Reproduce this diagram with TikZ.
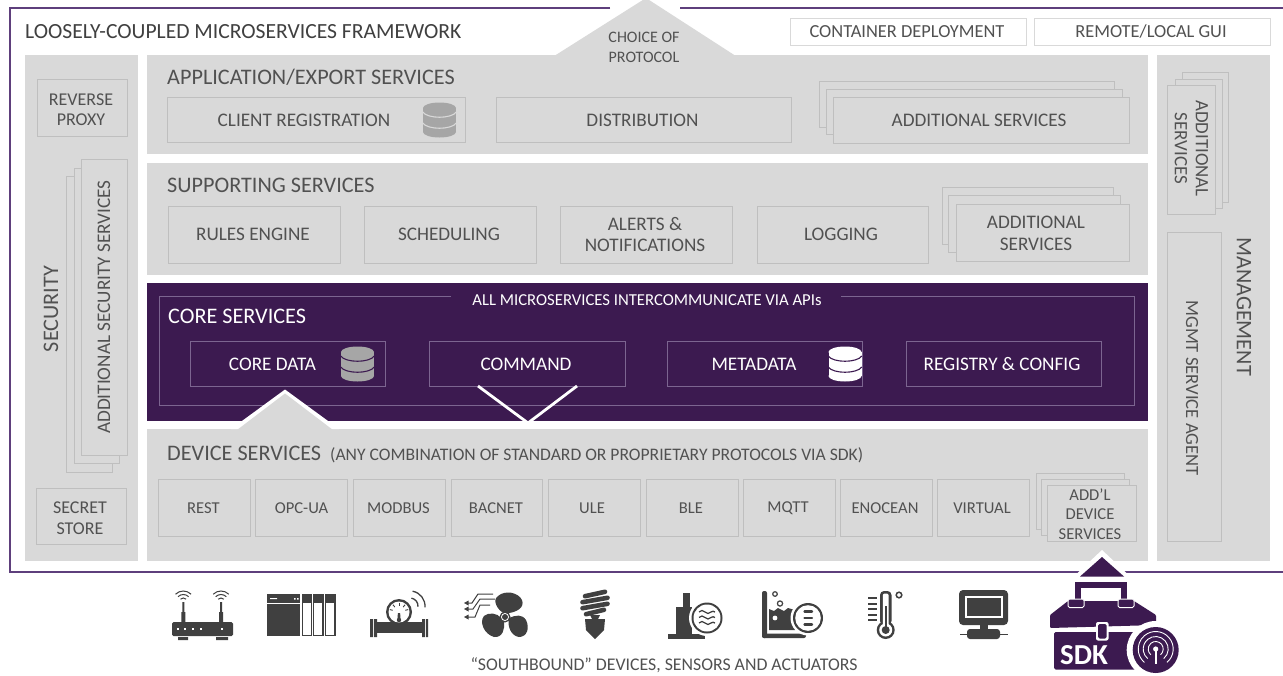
\documentclass[tikz,border=0pt]{standalone}
\usepackage{fontspec}
\setmainfont{Carlito}
\usetikzlibrary{calc}
\definecolor{panel}{HTML}{D9D9D9}
\definecolor{boxline}{HTML}{BFBFBF}
\definecolor{ink}{HTML}{515151}
\definecolor{deep}{HTML}{3C1A50}
\definecolor{frameline}{HTML}{5E3F7C}
\definecolor{coreline}{HTML}{7C6590}
\definecolor{icon}{HTML}{404040}
\definecolor{dbgray}{HTML}{A6A6A6}
\tikzset{
 x=1pt,y=-1pt,
 panelbox/.style={fill=panel,draw=none},
 sbox/.style={draw=boxline,line width=.9pt,fill=panel},
 lbl/.style={text=ink,font=\fontsize{19.2}{21.5}\selectfont,align=center,inner sep=0pt},
 dlbl/.style={lbl,font=\fontsize{16.6}{19.8}\selectfont},
 head/.style={text=ink,font=\fontsize{22.2}{26}\selectfont,inner sep=0pt,anchor=west},
 cbox/.style={draw=coreline,line width=.9pt,fill=deep},
 clbl/.style={text=white,font=\fontsize{19.2}{21}\selectfont,inner sep=0pt},
 topbox/.style={draw=panel,line width=.9pt,fill=white},
 ic/.style={fill=icon,draw=none},
}
\newcommand{\Bx}[6][sbox]{\node[#1,minimum width=0pt,inner sep=0pt,fit to rect={#3}{#4}{#5}{#6}] (#2) {};}
\tikzset{fit to rect/.code n args={4}{%
 \pgfmathsetmacro\rw{#3-#1}\pgfmathsetmacro\rh{#4-#2}%
 \pgfmathsetmacro\rcx{(#1+#3)/2}\pgfmathsetmacro\rcy{(#2+#4)/2}%
 \tikzset{rectangle,minimum width=\rw pt,minimum height=\rh pt,at={(\rcx,\rcy)},outer sep=0pt}}}
\newcommand{\Db}[4]{% cx cy fill bandcolor
 \fill[#3] (#1-16.5,#2-12) rectangle (#1+16.5,#2+12);
 \fill[#3] (#1,#2-12) ellipse[x radius=16.5,y radius=5.5];
 \fill[#3] (#1,#2+12) ellipse[x radius=16.5,y radius=5.5];
 \draw[#4,line width=1.1pt] (#1-16.8,#2-8) .. controls (#1-12,#2-1) and (#1+12,#2-1) .. (#1+16.8,#2-8);
 \draw[#4,line width=1.1pt] (#1-16.8,#2+3) .. controls (#1-12,#2+10) and (#1+12,#2+10) .. (#1+16.8,#2+3);
}
\begin{document}
\begin{tikzpicture}
\useasboundingbox (0,0) rectangle (1283,675);
\fill[white] (0,0) rectangle (1283,675);
% frame
\coordinate (fa) at (610,8);\coordinate (fb) at (10,8);\coordinate (fc) at (10,572);\coordinate (fd) at (1283,572);\coordinate (fe) at (1283,8);\coordinate (ff) at (680,8);
\draw[frameline,line width=1.6pt] (fa)--(fb)--(fc)--(fd);
\draw[frameline,line width=1.6pt] (fe)--(ff);
\node[text=icon,font=\fontsize{21.6}{24}\selectfont,inner sep=0pt,anchor=west] (title) at (25,32) {LOOSELY-COUPLED MICROSERVICES FRAMEWORK};
\Bx[topbox]{cont}{790}{18}{1026}{45}\node[lbl,font=\fontsize{18.4}{21}\selectfont] at (907,32) {CONTAINER DEPLOYMENT};
\Bx[topbox]{gui}{1034}{18}{1270}{45}\node[lbl,font=\fontsize{18.4}{21}\selectfont] at (1151,32) {REMOTE/LOCAL GUI};
% panels
\Bx[panelbox]{sec}{25}{55}{138}{561}
\Bx[panelbox]{app}{147}{55}{1148}{154}
\Bx[panelbox]{sup}{147}{163}{1148}{275}
\Bx[panelbox]{dev}{147}{429}{1148}{561}
\Bx[panelbox]{mgmt}{1157}{55}{1270}{561}
\Bx[panelbox,fill=deep]{core}{147}{283}{1148}{421}
% choice of protocol
\fill[panel] (555,55.5) -- (646,-2) -- (735,55.5) -- cycle;
\node[lbl,font=\fontsize{16}{20.5}\selectfont] (choice) at (644,47.5) {CHOICE OF\\PROTOCOL};
% app
\node[head] at (167,77.5) {APPLICATION/EXPORT SERVICES};
\Bx{client}{167}{97}{465}{142}\node[lbl] at (304,120.5) {CLIENT REGISTRATION};
\Db{439.5}{120}{dbgray}{panel}
\Bx{dist}{496}{97}{791}{142}\node[lbl] at (642.5,120.5) {DISTRIBUTION};
\Bx{adda}{819}{81}{1114}{127}\Bx{addb}{826}{89}{1122}{134}\Bx{addc}{833}{97}{1129}{143}\node[lbl] at (979,120.5) {ADDITIONAL SERVICES};
% support
\node[head] at (167,185.5) {SUPPORTING SERVICES};
\Bx{rules}{168}{206}{340}{263}\node[lbl] at (253,234.5) {RULES ENGINE};
\Bx{sched}{364}{206}{536}{263}\node[lbl] at (449,234.5) {SCHEDULING};
\Bx{alert}{560}{206}{732}{263}\node[lbl] at (645,234.5) {ALERTS \&\\NOTIFICATIONS};
\Bx{logg}{757}{206}{928}{263}\node[lbl] at (841,234.5) {LOGGING};
\Bx{sa}{942}{187}{1113}{244}\Bx{sb}{948}{195}{1120}{252}\Bx{sc}{956}{204}{1129}{261}\node[lbl] at (1036,233.5) {ADDITIONAL\\SERVICES};
% security
\node[head,anchor=center,rotate=90] at (51,309) {SECURITY};
\Bx{rev}{37}{79}{127}{136}\node[lbl,font=\fontsize{18}{20.5}\selectfont] at (81,109.5) {REVERSE\\PROXY};
\Bx{xa}{66}{176}{112}{472}\Bx{xb}{74}{168}{119}{463}\Bx{xc}{81}{159}{127}{455}
\node[lbl,rotate=90] at (104,307) {ADDITIONAL SECURITY SERVICES};
\Bx{secret}{36}{488}{126}{544}\node[lbl,font=\fontsize{18}{20.5}\selectfont] at (80,518) {SECRET\\STORE};
% management
\node[head,anchor=center,rotate=-90] at (1244,306.5) {MANAGEMENT};
\Bx{ma}{1182}{72}{1228}{202}\Bx{mb}{1175}{79}{1222}{208}\Bx{mc}{1167}{85}{1215}{214}
\node[lbl,rotate=-90,font=\fontsize{18.9}{21}\selectfont] at (1191.5,148.5) {ADDITIONAL\\SERVICES};
\Bx{agent}{1167}{232}{1221}{541}\node[lbl,rotate=-90,font=\fontsize{18.6}{21}\selectfont] at (1192,388) {MGMT SERVICE AGENT};
% core
\coordinate (ca) at (451,296);\coordinate (cb) at (159,296);\coordinate (cc) at (159,405);\coordinate (cd) at (1134,405);\coordinate (ce) at (1134,296);\coordinate (cf) at (841,296);
\draw[coreline,line width=.8pt] (ca)--(cb)--(cc)--(cd)--(ce)--(cf);
\node[clbl,font=\fontsize{16.7}{19}\selectfont] (apis) at (647,300) {ALL MICROSERVICES INTERCOMMUNICATE VIA APIs};
\node[clbl,font=\fontsize{22.2}{24}\selectfont,anchor=west] at (168,316.5) {CORE SERVICES};
\Bx[cbox]{cdata}{190}{341}{385}{386}\node[clbl] at (272.5,364) {CORE DATA};
\Db{357.5}{364}{dbgray}{deep}
\Bx[cbox]{cmd}{429}{341}{625}{386}\node[clbl] at (526,364) {COMMAND};
\Bx[cbox]{meta}{667}{341}{862}{386}\node[clbl] at (754,364) {METADATA};
\Db{845}{364}{white}{deep}
\Bx[cbox]{reg}{906}{341}{1101}{386}\node[clbl] at (1002,364) {REGISTRY \& CONFIG};
% arrows between core and device
\fill[white] (147,421) rectangle (1148,429);
\fill[white] (231,429) -- (285,389.5) -- (339,429) -- cycle;
\fill[panel] (237,430) -- (285,393.5) -- (333,430) -- cycle;
\draw[white,line width=2.8pt] (478,386) -- (528,423) -- (577,386);
% device
\node[head] at (167,453.5) {DEVICE SERVICES};
\node[text=ink,font=\fontsize{17.6}{20}\selectfont,inner sep=0pt,anchor=west] at (330,455) {(ANY COMBINATION OF STANDARD OR PROPRIETARY PROTOCOLS VIA SDK)};
\Bx{d1}{158}{479}{250}{536}\node[dlbl] at (203.5,508) {REST};
\Bx{d2}{255}{479}{347}{536}\node[dlbl] at (301.5,508) {OPC-UA};
\Bx{d3}{353}{479}{445}{536}\node[dlbl] at (398.5,508) {MODBUS};
\Bx{d4}{451}{479}{542}{536}\node[dlbl] at (496,508) {BACNET};
\Bx{d5}{548}{479}{640}{536}\node[dlbl] at (592,508) {ULE};
\Bx{d6}{646}{479}{738}{536}\node[dlbl] at (691,508) {BLE};
\Bx{d7}{743}{479}{835}{536}\node[dlbl] at (788,508) {MQTT};
\Bx{d8}{840}{479}{932}{536}\node[dlbl] at (885,508) {ENOCEAN};
\Bx{d9}{937}{479}{1029}{536}\node[dlbl] at (982,508) {VIRTUAL};
\Bx{ea}{1036}{473}{1124}{529}\Bx{eb}{1041}{479}{1129}{535}\Bx{ec}{1047}{485}{1136}{541}
\node[dlbl] at (1090,514) {ADD’L\\DEVICE\\SERVICES};
% caption
\node[text=ink,font=\fontsize{17.8}{20}\selectfont,inner sep=0pt] (south) at (664,665) {“SOUTHBOUND” DEVICES, SENSORS AND ACTUATORS};
% ICONS
% router
\fill[ic,rounded corners=1.5pt] (172,622) rectangle (233,636);
\fill[ic] (178,637) rectangle (188,640) (216,637) rectangle (228,640);
\fill[ic] (182.3,602) rectangle (184.3,612) (181.3,612) rectangle (185.3,622) (220,602) rectangle (222,612) (219,612) rectangle (223,622);
\foreach \x in {178,185,193,201,222}{\fill[white] (\x-1,628) rectangle (\x+1,630);}
\foreach \cx in {183.3,221}{\foreach \r in {4,7.5,11}{\draw[icon,line width=1pt] (\cx,602) ++(-135:\r) arc[start angle=-135,end angle=-45,radius=\r];}}
% plc
\fill[ic] (267,594) rectangle (300,636);
\fill[white] (267,602.6) rectangle (300,603.4);
\fill[white] (270,598) rectangle (277,599) (294,598) rectangle (295.5,599.5) (297,598) rectangle (298.5,599.5);
\foreach \x in {301.5,313,325}{\fill[ic] (\x,594) rectangle (\x+10.5,636);\fill[white] (\x+1.2,603) rectangle (\x+9.3,634.8);}
% meter
\fill[ic] (370,619) rectangle (373,637) (374,619) rectangle (377,637) (422,619) rectangle (425,637) (426,619) rectangle (428,637);
\fill[ic] (377,622) rectangle (422,633);
\fill[ic] (399,612) circle[radius=13];
\fill[white] (399,612) circle[radius=10.5];
\fill[ic] (397.8,613) -- (400.2,613) -- (400.4,620) -- (397.6,620) -- cycle;
\fill[ic] (399,620) circle[radius=2.2];
\foreach \a in {-165,-130,-90,-50,-15}{\draw[icon,line width=.9pt] (399,612) ++(\a:9.5) -- ++(\a:-3);}
\draw[icon,line width=1.3pt] (410,606) ++(-80:8) arc[start angle=-80,end angle=5,radius=8];
\draw[icon,line width=1.3pt] (410,606) ++(-80:15) arc[start angle=-80,end angle=5,radius=15];
% fan
\fill[ic] (505,614) .. controls (497,610) and (492,600) .. (498,596) .. controls (505,590) and (518,592) .. (522,600) .. controls (525,608) and (516,612) .. (509,613) -- cycle;
\fill[ic] (509,618) .. controls (516,615) and (522,614) .. (526,620) .. controls (530,628) and (527,637) .. (519,637) .. controls (511,636) and (507,626) .. (509,618) -- cycle;
\fill[ic] (501,618) .. controls (498,613) and (488,612) .. (484,616) .. controls (479,622) and (484,634) .. (494,637) .. controls (503,638) and (505,628) .. (504,622) -- cycle;
\fill[ic] (505,617) circle[radius=5.5];\fill[white] (505,617) circle[radius=4];\fill[ic] (505,617) circle[radius=3];
\draw[icon,line width=1pt] (493,594) -- (478,594) -- (472,603) -- (466,603);
\draw[icon,line width=1pt] (495,599) -- (480,599) -- (473,609) -- (466,609);
\draw[icon,line width=1pt] (490,605) -- (480,605) -- (475,617) -- (466,617);
\foreach \y in {603,609,617}{\fill[ic] (464,\y) -- (468.5,\y-2.5) -- (468.5,\y+2.5) -- cycle;}
% bulb
\foreach \y/\w in {594/10,600/12.5,606/12.5,612/9}{\draw[icon,line width=4.6pt,line cap=round] (595-\w,\y+2.2) -- (595+\w,\y-2.2);}
\fill[ic] (590,615) -- (600,615) -- (598,619) -- (592,619) -- cycle;
\fill[ic] (585,619) -- (605,619) -- (604,630) -- (601,633) -- (595,639) -- (589,633) -- (586,630) -- cycle;
% level
\fill[ic] (668,633.5) rectangle (705,638.5);
\fill[ic] (676,607) rectangle (692,634);\fill[ic] (683,592.5) rectangle (690,607);
\fill[white] (707,618) circle[radius=18];\fill[ic] (707,618) circle[radius=15.5];\fill[white] (707,618) circle[radius=13.5];
\foreach \y in {612,617.5,623}{\draw[icon,line width=1.3pt] (699,\y) .. controls (701,\y-2) and (703,\y-2) .. (705,\y) .. controls (707,\y+2) and (709,\y+2) .. (711,\y) .. controls (712,\y-1) and (714,\y-1) .. (715,\y);}
% tank
\fill[ic,rounded corners=2pt] (762,591) rectangle (767,638);
\fill[ic,rounded corners=2pt] (762,633.5) rectangle (806,638);
\fill[ic] (769,609) -- (774,611) -- (778,608) -- (784,611) -- (788,608) -- (795,610) -- (795,630) -- (769,630) -- cycle;
\fill[white] (775,618) circle[radius=2.4];
\draw[icon,line width=1.2pt] (775,594) circle[radius=2.3];
\draw[icon,line width=1.2pt] (780,603.5) circle[radius=2.6];
\fill[white] (808,618) circle[radius=17.5];\fill[ic] (808,618) circle[radius=15];\fill[white] (808,618) circle[radius=12.8];
\foreach \y in {611.5,618,624.5}{\draw[icon,line width=2.4pt,line cap=round] (804.5,\y) -- (812,\y);}
% thermometer
\fill[ic,rounded corners=4pt] (880,591) rectangle (891.5,625);
\fill[ic] (885.7,630) circle[radius=9];
\fill[white,rounded corners=2pt] (882.8,593.5) rectangle (888.6,626);
\fill[white] (885.7,630) circle[radius=6.5];
\fill[ic] (885.7,630) circle[radius=4];\fill[ic] (884.7,606) rectangle (886.7,628);
\foreach \y in {598,604,609,615,620}{\fill[ic] (868,\y-1) rectangle (877,\y+1);}
\draw[icon,line width=1.5pt] (899,595) circle[radius=2.8];
% monitor
\fill[ic,rounded corners=4pt] (959,590) rectangle (1008,625);
\fill[white] (965,596) rectangle (1003,618);\fill[ic] (967,598) rectangle (1001,616);
\fill[ic] (980,625) rectangle (988,632);
\fill[ic] (960,633.5) rectangle (1008,635);\fill[ic,rounded corners=3pt] (967,629) rectangle (1000,639);
% SDK
\fill[white] (1102,550) -- (1077,573.5) -- (1127,573.5) -- cycle;
\fill[deep] (1102,557) -- (1080,576.5) -- (1124,576.5) -- cycle;
\draw[deep,line width=6pt] (1077.5,606) -- (1077.5,585) -- (1124,585) -- (1124,606);
\fill[deep,rounded corners=1pt] (1050,615) -- (1068,601) -- (1134,601) -- (1156,615) -- (1156,625) -- (1050,628) -- cycle;
\draw[white,line width=1pt,fill=deep,rounded corners=1.5pt] (1068,599) rectangle (1084,607.5);
\draw[white,line width=1pt,fill=deep,rounded corners=1.5pt] (1118,599) rectangle (1134,607.5);
\fill[white] (1085,597) rectangle (1117,600.5);
\fill[deep,rounded corners=1.5pt] (1054,632) rectangle (1153,669.5);
\fill[white,rounded corners=2pt] (1096,622) rectangle (1108.5,640.5);
\fill[deep,rounded corners=1.5pt] (1098,624) rectangle (1106.5,638.5);
\node[text=white,font=\bfseries\fontsize{29}{30}\selectfont,inner sep=0pt] (sdk) at (1084,655) {SDK};
\fill[white] (1155.7,650) circle[radius=29];
\fill[deep] (1155.7,650) circle[radius=23];
\foreach \r in {7.5,12.5,17.5}{\draw[white,line width=.9pt] (1155.7,649) ++(50:\r) arc[start angle=50,end angle=-230,radius=\r];}
\draw[white,line width=1.6pt] (1155.7,649) -- (1155.7,664);
\fill[white] (1155.7,649) circle[radius=2.6];
\end{tikzpicture}
\end{document}
